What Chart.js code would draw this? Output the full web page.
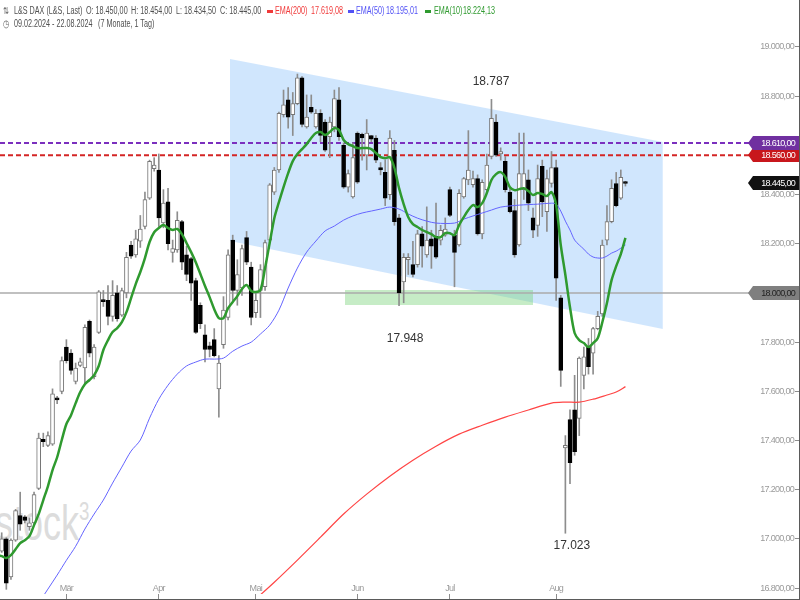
<!DOCTYPE html>
<html lang="de">
<head>
<meta charset="utf-8">
<title>L&amp;S DAX</title>
<script src="https://cdn.jsdelivr.net/npm/chart.js@4.4.1/dist/chart.umd.min.js"></script>
<style>
  html, body { margin: 0; padding: 0; background: #fff; }
  #wrap { position: relative; width: 799px; height: 599px; border-right: 1px solid #5a5a5a; border-bottom: 1px solid #5a5a5a; overflow: hidden; }
  #chart { position: absolute; left: 0; top: 0; }
  #wm { position: absolute; left: -5px; top: 494px; font: 50px "Liberation Sans", Arial, sans-serif; color: #dcdcdc; transform: scaleX(0.72); transform-origin: 0 0; white-space: nowrap; }
  #wm sup { font-size: 26px; vertical-align: 20px; }
  .h { position: absolute; font: 10px "Liberation Sans", Arial, sans-serif; color: #505050; white-space: nowrap; line-height: 12px; transform: scaleX(0.72); transform-origin: 0 0; }
  .dash { position: absolute; width: 6px; height: 3px; }
</style>
</head>
<body>
<div id="wrap">
  <div id="wm">stock<sup>3</sup></div>
  <canvas id="chart" width="799" height="599"></canvas>
</div>
<script>
"use strict";
const FONT = '"Liberation Sans", Arial, sans-serif';

// Handelstage 09.02.2024 - 22.08.2024 (ohne Wochenende und Börsenfeiertage)
const holidays = ["2024-03-29", "2024-04-01", "2024-05-01"];
const dates = [];
for (let d = new Date(Date.UTC(2024, 1, 9)); d <= new Date(Date.UTC(2024, 7, 22)); d.setUTCDate(d.getUTCDate() + 1)) {
  const iso = d.toISOString().slice(0, 10);
  if (d.getUTCDay() === 0 || d.getUTCDay() === 6 || holidays.includes(iso)) continue;
  dates.push(iso);
}

// Tageskerzen
const open = [16930, 16950, 17000, 16845, 16995, 17095, 17090, 17050, 17065, 17205,
  17405, 17380, 17385, 17570, 17600, 17780, 17755, 17640, 17705, 17695,
  17885, 17660, 17840, 17970, 17970, 17905, 18000, 17910, 18000, 18195,
  18155, 18210, 18270, 18385, 18505, 18500, 18285, 18370, 18165, 18175,
  18290, 18155, 18140, 18050, 17950, 17830, 17785, 17810, 17610, 17790,
  17900, 18215, 18010, 18020, 18225, 18105, 17920, 18010, 18025, 18215,
  18410, 18500, 18725, 18785, 18725, 18770, 18875, 18675, 18755, 18675,
  18730, 18695, 18635, 18675, 18785, 18600, 18430, 18390, 18650, 18645,
  18560, 18640, 18630, 18510, 18490, 18400, 18580, 18305, 18045, 18135,
  18115, 18115, 18240, 18155, 18220, 18230, 18215, 18235, 18420, 18235,
  18195, 18390, 18460, 18440, 18465, 18240, 18420, 18555, 18695, 18565,
  18535, 18410, 18335, 18195, 18420, 18460, 18305, 18275, 18515, 18330,
  18445, 18510, 17980, 17370, 17485, 17525, 17490, 17665, 17780, 17755,
  17855, 17915, 18215, 18290, 18445, 18385, 18450];
const high = [16990, 17025, 17005, 17000, 17120, 17190, 17095, 17085, 17190, 17430,
  17430, 17435, 17610, 17580, 17740, 17810, 17770, 17715, 17735, 17870,
  17890, 17790, 18010, 18010, 18030, 18050, 18030, 18020, 18165, 18210,
  18255, 18315, 18410, 18540, 18550, 18565, 18420, 18425, 18215, 18330,
  18295, 18190, 18145, 18060, 17960, 17870, 17800, 17855, 17745, 17985,
  18175, 18235, 18135, 18195, 18250, 18125, 18000, 18115, 18215, 18445,
  18510, 18735, 18825, 18835, 18815, 18890, 18880, 18805, 18805, 18745,
  18745, 18705, 18715, 18825, 18835, 18610, 18500, 18610, 18655, 18650,
  18705, 18640, 18640, 18530, 18540, 18660, 18620, 18320, 18160, 18160,
  18210, 18255, 18270, 18350, 18255, 18365, 18275, 18305, 18430, 18255,
  18420, 18470, 18660, 18495, 18480, 18460, 18565, 18787, 18725, 18590,
  18555, 18430, 18380, 18650, 18650, 18500, 18345, 18520, 18540, 18500,
  18575, 18540, 17990, 17420, 17525, 17665, 17740, 17780, 17815, 17860,
  17925, 18215, 18355, 18460, 18490, 18500, 18454];
const low = [16905, 16945, 16795, 16835, 16990, 17035, 17065, 17035, 17060, 17200,
  17375, 17375, 17380, 17550, 17590, 17715, 17670, 17630, 17700, 17630,
  17740, 17650, 17835, 17945, 17870, 17885, 17885, 17905, 17980, 18140,
  18145, 18185, 18260, 18380, 18495, 18270, 18265, 18175, 18125, 18165,
  18095, 18050, 17970, 17835, 17855, 17720, 17740, 17740, 17495, 17775,
  17890, 17970, 17950, 17990, 18115, 17870, 17900, 17900, 18010, 18205,
  18400, 18490, 18715, 18670, 18640, 18765, 18675, 18670, 18730, 18670,
  18615, 18575, 18550, 18655, 18620, 18425, 18410, 18385, 18445, 18540,
  18500, 18615, 18530, 18480, 18355, 18380, 18275, 17948, 17960, 18075,
  18065, 18105, 18105, 18145, 18100, 18140, 18195, 18230, 18310, 18025,
  18190, 18385, 18440, 18430, 18235, 18220, 18410, 18545, 18555, 18540,
  18410, 18325, 18145, 18190, 18380, 18335, 18225, 18230, 18310, 18250,
  18430, 17970, 17620, 17023, 17225, 17340, 17420, 17610, 17670, 17670,
  17850, 17905, 18195, 18285, 18350, 18380, 18434.5];
const close = [16960, 17000, 16820, 16995, 17115, 17060, 17075, 17065, 17180, 17410,
  17395, 17420, 17590, 17565, 17725, 17725, 17685, 17695, 17720, 17860,
  17755, 17780, 18005, 17965, 17905, 17990, 17895, 18010, 18145, 18150,
  18220, 18260, 18380, 18535, 18520, 18305, 18365, 18200, 18180, 18295,
  18125, 18075, 18040, 17840, 17875, 17770, 17770, 17745, 17715, 17930,
  18155, 18010, 18075, 18180, 18125, 17900, 17970, 18095, 18205, 18440,
  18500, 18730, 18765, 18715, 18770, 18875, 18685, 18715, 18735, 18730,
  18640, 18580, 18695, 18790, 18635, 18430, 18485, 18550, 18450, 18630,
  18650, 18625, 18540, 18500, 18385, 18630, 18290, 18000, 18145, 18145,
  18075, 18240, 18190, 18215, 18190, 18145, 18255, 18260, 18315, 18165,
  18405, 18465, 18500, 18465, 18240, 18450, 18520, 18710, 18560, 18575,
  18420, 18330, 18155, 18485, 18485, 18365, 18255, 18465, 18370, 18465,
  18510, 18060, 17685, 17380, 17310, 17355, 17735, 17740, 17700, 17855,
  17905, 18195, 18290, 18425, 18355, 18470, 18445];

const ema10 = [16934, 16930, 16922, 16934, 16958, 16983, 16995, 17011, 17056, 17101,
  17158, 17214, 17280, 17332, 17402, 17467, 17503, 17552, 17597, 17629,
  17646, 17666, 17703, 17768, 17808, 17841, 17857, 17881, 17922, 17979,
  18036, 18085, 18142, 18207, 18247, 18264, 18276, 18264, 18256, 18260,
  18239, 18203, 18166, 18125, 18077, 18028, 17983, 17934, 17898, 17898,
  17938, 17963, 17987, 18016, 18032, 18008, 18004, 18012, 18101, 18203,
  18304, 18369, 18430, 18487, 18536, 18565, 18585, 18605, 18630, 18650,
  18654, 18642, 18654, 18670, 18662, 18622, 18605, 18597, 18589, 18589,
  18589, 18585, 18569, 18552, 18548, 18552, 18508, 18426, 18361, 18308,
  18280, 18268, 18256, 18247, 18239, 18227, 18227, 18243, 18243, 18235,
  18276, 18308, 18337, 18357, 18349, 18365, 18406, 18459, 18483, 18491,
  18471, 18430, 18418, 18422, 18426, 18414, 18398, 18406, 18402, 18394,
  18410, 18357, 18195, 18073, 17942, 17837, 17808, 17796, 17780, 17796,
  17816, 17881, 17959, 18052, 18109, 18158, 18224.13];
const ema50At = [9, 11, 13, 15, 17, 19, 21, 23, 25, 27, 29, 31, 33, 35, 37, 39, 41, 43, 45, 47,
  49, 51, 53, 55, 57, 59, 61, 63, 65, 67, 69, 71, 73, 75, 77, 79, 81, 83, 85, 87,
  89, 91, 93, 95, 99, 101, 103, 105, 107, 109, 113, 117, 120, 121, 122, 123, 124, 125, 126, 127,
  128, 129, 130, 131, 132, 133, 134, 135, 136];
const ema50 = [16739, 16796, 16853, 16913, 16970, 17040, 17101, 17158, 17227, 17292,
  17357, 17402, 17491, 17568, 17625, 17670, 17703, 17719, 17731, 17731,
  17735, 17763, 17784, 17800, 17833, 17869, 17930, 18020, 18101, 18166,
  18211, 18252, 18272, 18296, 18313, 18325, 18333, 18341, 18349, 18341,
  18321, 18304, 18292, 18284, 18284, 18300, 18313, 18325, 18337, 18349,
  18357, 18361, 18365, 18361, 18333, 18292, 18256, 18215, 18195, 18178,
  18158, 18146, 18142, 18142, 18150, 18162, 18170, 18182, 18195.01];
const ema200At = [55, 60, 65, 70, 75, 80, 85, 90, 95, 100, 105, 110, 115, 120, 123, 126, 129, 132, 134, 136];
const ema200 = [16739, 16824, 16914, 17007, 17101, 17182, 17255, 17320, 17377, 17426,
  17462, 17495, 17524, 17552, 17556, 17556, 17568, 17585, 17597, 17619.08];

// Achsen
const yTicks = [16800, 17000, 17200, 17400, 17600, 17800, 18000, 18200, 18400, 18600, 18800, 19000];
const monthLabels = ["Mär", "Apr", "Mai", "Jun", "Jul", "Aug"];
const X_MIN = 0.63, X_MAX = 172.7;
const Y_MIN = 16776, Y_MAX = 19191;

// Eingezeichnete Linien und Flächen
const channelTop = [[50.4, 18951], [144.1, 18614]];
const channelBottom = [[50.4, 18211], [144.1, 17853]];
const supportZone = { from: 75.3, to: 116, top: 18012, bottom: 17951 };
const levels = [
  { value: 18610, color: "#7b2fbe", dash: [5, 3], width: 2 },
  { value: 18560, color: "#d42525", dash: [5, 3], width: 2 },
  { value: 18000, color: "#ababab", dash: [], width: 1.5 }
];
const tags = [
  { value: 18560, bg: "#c8171c", fg: "#fff" },
  { value: 18610, bg: "#7030a0", fg: "#fff" },
  { value: 18445, bg: "#111111", fg: "#fff" },
  { value: 18000, bg: "#7f7f7f", fg: "#222" }
];
const notes = [
  { text: "18.787", at: 106.9, value: 18858 },
  { text: "17.948", at: 88.3, value: 17816 },
  { text: "17.023", at: 124.4, value: 16974 }
];

function fmt(v) {
  const [i, d] = v.toFixed(2).split(".");
  return i.replace(/\B(?=(\d{3})+(?!\d))/g, ".") + "," + d;
}

const monthStarts = [3, 4, 5, 6, 7, 8].map(m => dates.findIndex(s => Number(s.slice(5, 7)) === m));
const last = dates.length - 1;

// Kopfzeile
const head = [
  [3, 5, "⇅", "#666"],
  [14, 5, "L&S DAX (L&S, Last)", "#505050"],
  [86, 5, "O: " + fmt(open[last]), "#505050"],
  [131, 5, "H: " + fmt(high[last]), "#505050"],
  [176, 5, "L: " + fmt(low[last]), "#505050"],
  [220, 5, "C: " + fmt(close[last]), "#505050"],
  [275, 5, "EMA(200)", "#f03a3a"],
  [311, 5, fmt(ema200[ema200.length - 1]), "#f03a3a"],
  [356, 5, "EMA(50)", "#5252f5"],
  [386, 5, fmt(ema50[ema50.length - 1]), "#5252f5"],
  [434, 5, "EMA(10)", "#2f9a2f"],
  [463, 5, fmt(ema10[ema10.length - 1]), "#2f9a2f"],
  [3, 18, "◷", "#666"],
  [14, 18, dates[0].split("-").reverse().join(".") + " - " + dates[last].split("-").reverse().join("."), "#505050"],
  [98, 18, "(7 Monate, 1 Tag)", "#505050"]
];
const wrap = document.getElementById("wrap");
head.forEach(([x, y, t, c]) => {
  const el = document.createElement("div");
  el.className = "h";
  el.style.left = x + "px";
  el.style.top = y + "px";
  el.style.color = c;
  el.textContent = t;
  wrap.appendChild(el);
});
[[267, "#f03a3a"], [348, "#5252f5"], [425, "#2f9a2f"]].forEach(([x, c]) => {
  const el = document.createElement("div");
  el.className = "dash";
  el.style.left = x + "px";
  el.style.top = "10px";
  el.style.background = c;
  wrap.appendChild(el);
});

// Schmalere Schrift für Achsen und Schilder
const narrowText = {
  id: "narrowText",
  beforeDraw(chart) { chart.ctx.letterSpacing = "-0.7px"; },
  afterDraw(chart) { chart.ctx.letterSpacing = "0px"; }
};

// Preisschilder und Beschriftungen
const tagPlugin = {
  id: "tags",
  afterDraw(chart) {
    const { ctx, scales: { x, y } } = chart;
    const right = chart.width;
    ctx.save();
    ctx.letterSpacing = "0px";
    ctx.font = "12px " + FONT;
    ctx.fillStyle = "#333";
    ctx.textAlign = "center";
    ctx.textBaseline = "middle";
    notes.forEach(n => ctx.fillText(n.text, x.getPixelForValue(n.at), y.getPixelForValue(n.value)));

    ctx.letterSpacing = "-0.7px";
    ctx.font = "9px " + FONT;
    ctx.textAlign = "right";
    tags.forEach(t => {
      const py = Math.round(y.getPixelForValue(t.value));
      ctx.fillStyle = t.bg;
      ctx.beginPath();
      ctx.moveTo(right - 51, py);
      ctx.lineTo(right - 46, py - 7);
      ctx.lineTo(right, py - 7);
      ctx.lineTo(right, py + 7);
      ctx.lineTo(right - 46, py + 7);
      ctx.closePath();
      ctx.fill();
      ctx.fillStyle = t.fg;
      ctx.fillText(fmt(t.value), right - 4, py + 0.5);
    });
    ctx.restore();
  }
};

const up = close.map((c, i) => c >= open[i]);
const line = (pts, extra) => Object.assign({
  type: "line", data: pts.map(([px, py]) => ({ x: px, y: py })),
  pointRadius: 0, borderWidth: 0, fill: false
}, extra);

const datasets = [
  line(ema10.map((v, i) => [i, v]), { label: "EMA(10)", order: 1, borderColor: "#2f9a2f", borderWidth: 2.5, tension: 0.3 }),
  line(ema50.map((v, i) => [ema50At[i], v]), { label: "EMA(50)", order: 2, borderColor: "#6464ff", borderWidth: 1, tension: 0.3 }),
  line(ema200.map((v, i) => [ema200At[i], v]), { label: "EMA(200)", order: 3, borderColor: "#ff4545", borderWidth: 1.2, tension: 0.3 }),
  {
    type: "bar", label: "Kerzen", order: 4, grouped: false,
    data: dates.map((d, i) => ({ x: i, y: [open[i], close[i]] })),
    backgroundColor: up.map(u => u ? "#ffffff" : "#000000"),
    borderColor: up.map(u => u ? "#767676" : "#000000"),
    borderWidth: 1, borderSkipped: false, barThickness: 4, minBarLength: 2
  },
  {
    type: "bar", label: "Dochte", order: 5, grouped: false,
    data: dates.map((d, i) => ({ x: i, y: [low[i], high[i]] })),
    backgroundColor: "#8d8d8d", borderWidth: 0, barThickness: 1
  },
  ...levels.map(l => line([[X_MIN, l.value], [X_MAX, l.value]],
    { order: 6, borderColor: l.color, borderWidth: l.width, borderDash: l.dash })),
  line([[supportZone.from, supportZone.top], [supportZone.to, supportZone.top]],
    { order: 7, fill: "+1", backgroundColor: "rgba(120, 210, 120, 0.42)" }),
  line([[supportZone.from, supportZone.bottom], [supportZone.to, supportZone.bottom]], { order: 7 }),
  line(channelTop, { order: 8, fill: "+1", backgroundColor: "rgba(150, 200, 250, 0.45)" }),
  line(channelBottom, { order: 8 })
];

new Chart(document.getElementById("chart"), {
  type: "bar",
  data: { datasets },
  options: {
    responsive: false,
    animation: false,
    devicePixelRatio: 1,
    layout: { padding: 0 },
    plugins: { legend: { display: false }, tooltip: { enabled: false } },
    scales: {
      x: {
        type: "linear", offset: false, min: X_MIN, max: X_MAX,
        afterBuildTicks: s => { s.ticks = monthStarts.map(v => ({ value: v })); },
        afterFit: s => { s.height = 5; s.paddingLeft = 0; s.paddingRight = 0; },
        grid: { drawOnChartArea: false, drawTicks: true, tickLength: 5, color: "#8c8c8c", offset: false },
        border: { display: false },
        ticks: {
          mirror: true, padding: 0, autoSkip: false, maxRotation: 0,
          color: "#9a9a9a", font: { family: FONT, size: 9 },
          callback: (v, i) => monthLabels[i]
        }
      },
      y: {
        type: "linear", position: "right", min: Y_MIN, max: Y_MAX,
        afterBuildTicks: s => { s.ticks = yTicks.map(v => ({ value: v })); },
        afterFit: s => { s.width = 4; s.paddingTop = 0; s.paddingBottom = 0; },
        grid: { drawOnChartArea: false, drawTicks: true, tickLength: 4, color: "#8c8c8c" },
        border: { display: false },
        ticks: {
          mirror: true, padding: -1,
          color: "#9a9a9a", font: { family: FONT, size: 9 },
          callback: v => fmt(v)
        }
      }
    }
  },
  plugins: [narrowText, tagPlugin]
});
</script>
</body>
</html>
